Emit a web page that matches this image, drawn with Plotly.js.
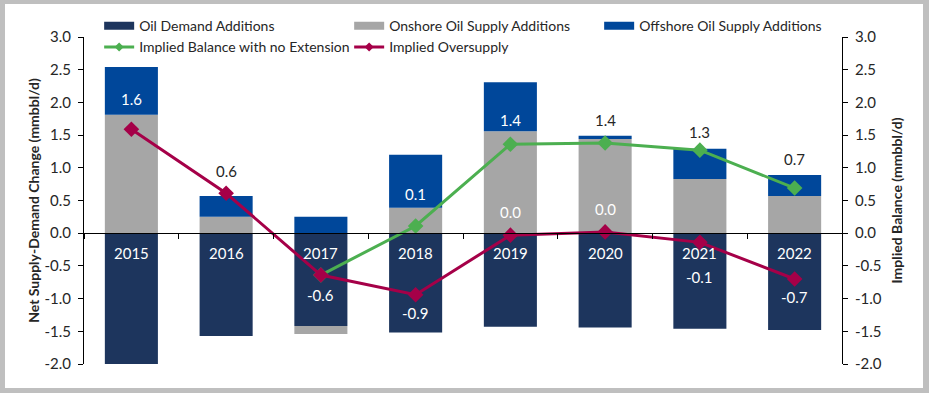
<!DOCTYPE html>
<html>
<head>
<meta charset="utf-8">
<script src="https://cdn.plot.ly/plotly-3.0.1.min.js"></script>
<style>
html, body { margin: 0; padding: 0; background: #bfbfbf; width: 929px; height: 393px; overflow: hidden; }
#chart { position: absolute; left: 5px; top: 4px; width: 918px; height: 384px; background: #ffffff; }
</style>
</head>
<body>
<div id="chart"></div>
<script>
// ---- data ----
const years = ['2015', '2016', '2017', '2018', '2019', '2020', '2021', '2022'];
const demandAdditions   = [-2.00, -1.57, -1.42, -1.52, -1.43, -1.44, -1.46, -1.48];
const onshoreAdditions  = [1.81, 0.25, -0.12, 0.39, 1.56, 1.44, 0.83, 0.57];
const offshoreAdditions = [0.73, 0.32, 0.25, 0.81, 0.75, 0.05, 0.46, 0.32];
const impliedOversupply = [1.59, 0.61, -0.64, -0.94, -0.03, 0.02, -0.14, -0.70];
const impliedBalanceNoExt = [null, null, -0.64, 0.11, 1.36, 1.38, 1.27, 0.69];
const tickValues = [-2.0, -1.5, -1.0, -0.5, 0.0, 0.5, 1.0, 1.5, 2.0, 2.5, 3.0];

// ---- label placement (pixels, + = above the point; null = no label) ----
const oversupplyLabelOffset = [30, 22, -20, -18, 23, 23, -35, -18];
const balanceLabelOffset = [null, null, null, 32, 24, 23, 18, 29];

// ---- helpers ----
const fmt = v => { let s = v.toFixed(1); if (s === '-0.0') s = '0.0'; return s; };
const tickText = tickValues.map(v => v.toFixed(1));
const pxPerUnit = 327 / 5;
const barTop = years.map((_, i) => [demandAdditions[i], onshoreAdditions[i], offshoreAdditions[i]].filter(v => v > 0).reduce((a, b) => a + b, 0));
const barBottom = years.map((_, i) => [demandAdditions[i], onshoreAdditions[i], offshoreAdditions[i]].filter(v => v < 0).reduce((a, b) => a + b, 0));
function labelColor(i, y) { return (y <= barTop[i] && y >= barBottom[i]) ? '#ffffff' : '#262626'; }

const FONT = 'Lato, "Open Sans", sans-serif';
const TXT = '#262626';
const C_DEMAND = '#1d355d', C_ON = '#a6a6a6', C_OFF = '#00479a', C_GREEN = '#4caf50', C_RED = '#a50048';

const traces = [
  { type: 'bar', name: 'Oil Demand Additions', x: years, y: demandAdditions,
    marker: { color: C_DEMAND }, hoverinfo: 'skip', showlegend: false },
  { type: 'bar', name: 'Onshore Oil Supply Additions', x: years, y: onshoreAdditions,
    marker: { color: C_ON }, hoverinfo: 'skip', showlegend: false },
  { type: 'bar', name: 'Offshore Oil Supply Additions', x: years, y: offshoreAdditions,
    marker: { color: C_OFF }, hoverinfo: 'skip', showlegend: false },
  { type: 'scatter', mode: 'lines+markers', name: 'Implied Balance with no Extension',
    x: years, y: impliedBalanceNoExt, yaxis: 'y2', connectgaps: false, showlegend: false,
    line: { color: C_GREEN, width: 3 }, marker: { symbol: 'diamond', size: 12, color: C_GREEN } },
  { type: 'scatter', mode: 'lines+markers', name: 'Implied Oversupply',
    x: years, y: impliedOversupply, yaxis: 'y2', showlegend: false,
    line: { color: C_RED, width: 3 }, marker: { symbol: 'diamond', size: 12, color: C_RED } },
  // legend keys (styled like the reference keys)
  { type: 'scatter', mode: 'lines', name: 'Oil Demand Additions', x: [null], y: [null],
    line: { color: C_DEMAND, width: 8 }, hoverinfo: 'skip' },
  { type: 'scatter', mode: 'lines', name: 'Onshore Oil Supply Additions', x: [null], y: [null],
    line: { color: C_ON, width: 8 }, hoverinfo: 'skip' },
  { type: 'scatter', mode: 'lines', name: 'Offshore Oil Supply Additions', x: [null], y: [null],
    line: { color: C_OFF, width: 8 }, hoverinfo: 'skip' },
  { type: 'scatter', mode: 'lines+markers', name: 'Implied Balance with no Extension', x: [null], y: [null],
    line: { color: C_GREEN, width: 3 }, marker: { symbol: 'diamond', size: 7, color: C_GREEN }, hoverinfo: 'skip' },
  { type: 'scatter', mode: 'lines+markers', name: 'Implied Oversupply', x: [null], y: [null],
    line: { color: C_RED, width: 3 }, marker: { symbol: 'diamond', size: 7, color: C_RED }, hoverinfo: 'skip' }
];

const annotations = [];
years.forEach((yr, i) => {
  annotations.push({ x: i, y: 0, xref: 'x', yref: 'y', text: yr, showarrow: false,
    yshift: -20, font: { family: FONT, size: 15, color: '#ffffff' } });
  const ov = impliedOversupply[i];
  const oo = oversupplyLabelOffset[i];
  if (oo !== null) {
    annotations.push({ x: i, y: ov, xref: 'x', yref: 'y2', text: fmt(ov), showarrow: false,
      yshift: oo, font: { family: FONT, size: 15, color: labelColor(i, ov + oo / pxPerUnit) } });
  }
  const b = impliedBalanceNoExt[i];
  const bo = balanceLabelOffset[i];
  if (b !== null && bo !== null) {
    annotations.push({ x: i, y: b, xref: 'x', yref: 'y2', text: fmt(b), showarrow: false,
      yshift: bo, font: { family: FONT, size: 15, color: labelColor(i, b + bo / pxPerUnit) } });
  }
});

const yCommon = {
  range: [-2, 3], tickvals: tickValues, ticktext: tickText,
  showline: true, linecolor: '#000000', linewidth: 1,
  ticks: 'outside', ticklen: 5, tickcolor: '#000000', ticklabelstandoff: 4,
  showgrid: false, zeroline: false,
  tickfont: { family: FONT, size: 15, color: TXT }
};

const layout = {
  width: 918, height: 384,
  margin: { l: 79, r: 81, t: 33, b: 24, autoexpand: false },
  paper_bgcolor: '#ffffff', plot_bgcolor: '#ffffff',
  font: { family: FONT, size: 14, color: TXT },
  barmode: 'relative', bargap: 0.44,
  showlegend: true,
  legend: { orientation: 'h', x: 0.02, xanchor: 'left', y: 1.082, yanchor: 'top',
    entrywidth: 205, entrywidthmode: 'pixels', bgcolor: 'rgba(0,0,0,0)',
    font: { family: FONT, size: 14, color: TXT }, traceorder: 'normal', tracegroupgap: 0 },
  xaxis: { type: 'category', categoryorder: 'array', categoryarray: years,
    range: [-0.5, 7.5], anchor: 'free', position: 0.4,
    showline: true, linecolor: '#000000', linewidth: 1,
    ticks: 'outside', tickson: 'boundaries', ticklen: 5, tickcolor: '#000000',
    showticklabels: false, showgrid: false, zeroline: false },
  yaxis: Object.assign({}, yCommon, {
    title: { text: 'Net Supply-Demand Change (mmbbl/d)', standoff: 1,
      font: { family: FONT, size: 14, color: TXT, weight: 'bold' } } }),
  yaxis2: Object.assign({}, yCommon, { overlaying: 'y', side: 'right',
    title: { text: 'Implied Balance (mmbbl/d)', standoff: 11,
      font: { family: FONT, size: 14, color: TXT, weight: 'bold' } } }),
  annotations: annotations
};

Plotly.newPlot('chart', traces, layout, { displayModeBar: false, staticPlot: true });
</script>
</body>
</html>
